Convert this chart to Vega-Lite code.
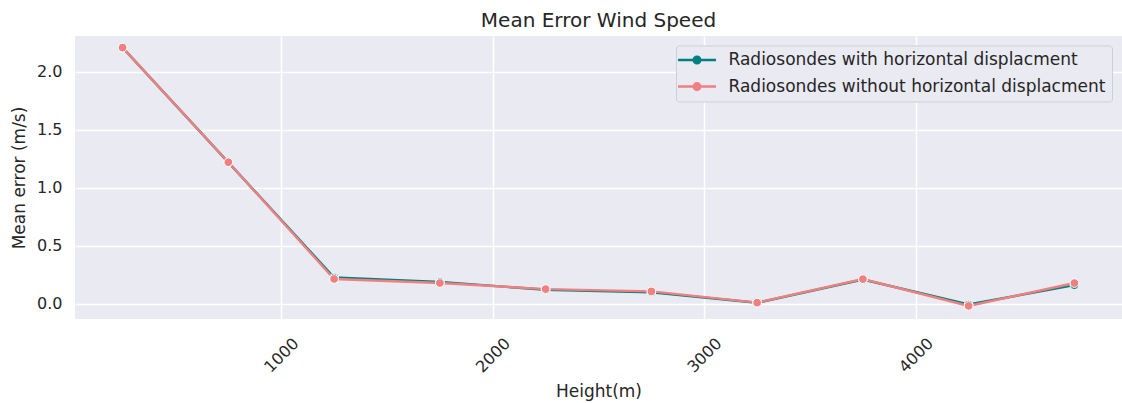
{
  "$schema": "https://vega.github.io/schema/vega-lite/v6.json",
  "autosize": {"type": "none"},
  "padding": {"left": 75, "top": 36, "right": 0, "bottom": 84},
  "width": 1047,
  "height": 283,
  "background": "white",
  "title": {
    "text": "Mean Error Wind Speed",
    "fontSize": 20,
    "font": "DejaVu Sans",
    "fontWeight": "normal",
    "color": "#262626",
    "anchor": "middle",
    "baseline": "alphabetic",
    "offset": 11,
    "dy": 22
  },
  "config": {
    "font": "DejaVu Sans",
    "view": {"fill": "#EAEAF2", "stroke": null},
    "axis": {
      "domain": false,
      "ticks": false,
      "grid": true,
      "gridColor": "white",
      "gridWidth": 1.5,
      "gridOpacity": 1,
      "labelFont": "DejaVu Sans",
      "labelFontSize": 16,
      "labelColor": "#262626",
      "titleFont": "DejaVu Sans",
      "titleFontSize": 17,
      "titleFontWeight": "normal",
      "titleColor": "#262626"
    }
  },
  "data": {
    "values": [
      {"height": 250, "error": 2.21, "series": "Radiosondes with horizontal displacment"},
      {"height": 750, "error": 1.22, "series": "Radiosondes with horizontal displacment"},
      {"height": 1250, "error": 0.228, "series": "Radiosondes with horizontal displacment"},
      {"height": 1750, "error": 0.19, "series": "Radiosondes with horizontal displacment"},
      {"height": 2250, "error": 0.122, "series": "Radiosondes with horizontal displacment"},
      {"height": 2750, "error": 0.1, "series": "Radiosondes with horizontal displacment"},
      {"height": 3250, "error": 0.01, "series": "Radiosondes with horizontal displacment"},
      {"height": 3750, "error": 0.21, "series": "Radiosondes with horizontal displacment"},
      {"height": 4250, "error": -0.005, "series": "Radiosondes with horizontal displacment"},
      {"height": 4750, "error": 0.162, "series": "Radiosondes with horizontal displacment"},
      {"height": 250, "error": 2.21, "series": "Radiosondes without horizontal displacment"},
      {"height": 750, "error": 1.222, "series": "Radiosondes without horizontal displacment"},
      {"height": 1250, "error": 0.215, "series": "Radiosondes without horizontal displacment"},
      {"height": 1750, "error": 0.18, "series": "Radiosondes without horizontal displacment"},
      {"height": 2250, "error": 0.128, "series": "Radiosondes without horizontal displacment"},
      {"height": 2750, "error": 0.108, "series": "Radiosondes without horizontal displacment"},
      {"height": 3250, "error": 0.011, "series": "Radiosondes without horizontal displacment"},
      {"height": 3750, "error": 0.214, "series": "Radiosondes without horizontal displacment"},
      {"height": 4250, "error": -0.017, "series": "Radiosondes without horizontal displacment"},
      {"height": 4750, "error": 0.18, "series": "Radiosondes without horizontal displacment"}
    ]
  },
  "encoding": {
    "x": {
      "field": "height",
      "type": "quantitative",
      "scale": {"domain": [25, 4975], "nice": false, "zero": false},
      "axis": {
        "title": "Height(m)",
        "values": [1000, 2000, 3000, 4000],
        "format": "d",
        "labelAngle": -45,
        "labelAlign": "center",
        "labelBaseline": "middle",
        "labelPadding": 36,
        "titleX": 523.5,
        "titleY": 77,
        "titleAlign": "center",
        "titleBaseline": "alphabetic"
      }
    },
    "y": {
      "field": "error",
      "type": "quantitative",
      "scale": {"domain": [-0.13, 2.31], "nice": false, "zero": false},
      "axis": {
        "title": "Mean error (m/s)",
        "values": [0, 0.5, 1, 1.5, 2],
        "format": ".1f",
        "labelPadding": 13,
        "titleAngle": -90,
        "titleX": -55.5,
        "titleY": 141.5,
        "titleAlign": "center",
        "titleBaseline": "middle"
      }
    },
    "color": {
      "field": "series",
      "type": "nominal",
      "scale": {
        "domain": ["Radiosondes with horizontal displacment", "Radiosondes without horizontal displacment"],
        "range": ["#008080", "#F08080"]
      },
      "legend": {
        "title": null,
        "orient": "none",
        "legendX": 601,
        "legendY": 9.5,
        "padding": 6,
        "rowPadding": 8.6,
        "fillColor": "#EAEAF2",
        "strokeColor": "#CFCFD6",
        "cornerRadius": 3,
        "labelFont": "DejaVu Sans",
        "labelFontSize": 17,
        "labelColor": "#262626",
        "labelLimit": 600,
        "labelOffset": 23,
        "symbolOffset": 6.5,
        "symbolSize": 196,
        "symbolStrokeWidth": 2.5,
        "symbolType": "M-2.71,0L-0.47,0M0.47,0L2.71,0M-0.47,0A0.47,0.47,0,1,0,0.47,0A0.47,0.47,0,1,0,-0.47,0Z",
        "encode": {
          "symbols": {
            "update": {
              "fill": {"scale": "color", "field": "value"},
              "stroke": {"scale": "color", "field": "value"},
              "strokeWidth": {"value": 2.5},
              "opacity": {"value": 1}
            }
          }
        }
      }
    }
  },
  "layer": [
    {
      "mark": {"type": "line", "strokeWidth": 2.4},
      "encoding": {}
    },
    {
      "mark": {"type": "point", "filled": true, "size": 75, "stroke": "white", "strokeWidth": 1, "opacity": 1},
      "encoding": {}
    }
  ]
}
